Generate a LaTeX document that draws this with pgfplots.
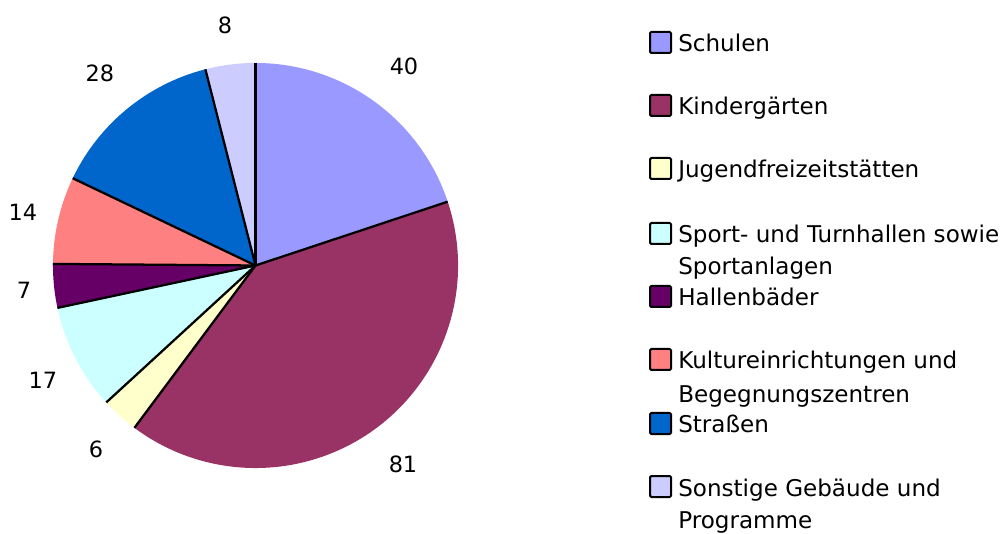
\documentclass[border=0pt]{standalone}
\usepackage{pgfplots}
\usepackage{pgfplotstable}
\pgfplotsset{compat=1.18}
\usepackage{fontspec}
\setmainfont{DejaVu Sans}

\definecolor{pie0}{HTML}{9999FF}
\definecolor{pie1}{HTML}{993366}
\definecolor{pie2}{HTML}{FFFFCC}
\definecolor{pie3}{HTML}{CCFFFF}
\definecolor{pie4}{HTML}{660066}
\definecolor{pie5}{HTML}{FF8080}
\definecolor{pie6}{HTML}{0066CC}
\definecolor{pie7}{HTML}{CCCCFF}

% value, label position (pixels, y downward)
\pgfplotstableread{
value lx ly
40 404 66
81 403 464
6 96 449
17 43 380
7 24 290
14 23 212
28 100 73
8 225 25
}\piedata

\newcommand\numfont{\fontsize{16.8pt}{20pt}\selectfont}
\newcommand\legfont{\fontsize{17.3pt}{20pt}\selectfont}
\def\cx{255.5}
\def\cy{267.5}
\def\rad{151.9pt}

\newcommand\pieslice[6]{%
  \fill[#1] (axis cs:\cx,\cy) -- ([shift={(#2:\rad)}]axis cs:\cx,\cy)
    arc[start angle=#2, end angle=#3, radius=\rad] -- cycle;}
\newcommand\pieline[6]{%
  \draw[black, line width=1.7pt] (axis cs:\cx,\cy) -- ([shift={(#2:\rad)}]axis cs:\cx,\cy);}
\newcommand\pielabel[6]{%
  \node[font=\numfont, inner sep=0pt] at (axis cs:#5,{533-#6}) {#4};}

\newcommand\legitem[3]{% color, baseline px, text
  \draw[line width=1.5pt, fill=#1, rounded corners=1pt]
    (axis cs:650,{533-#2-1}) rectangle (axis cs:671,{533-#2+20});
  \node[anchor=base west, inner sep=0pt, font=\legfont] at (axis cs:678,{533-#2}) {#3};}
\newcommand\legline[2]{%
  \node[anchor=base west, inner sep=0pt, font=\legfont] at (axis cs:678,{533-#1}) {#2};}

\begin{document}
\begin{tikzpicture}
\useasboundingbox (0,0) rectangle (753pt,399.75pt);
% compute angles from the data
\def\total{0}
\pgfplotsforeachungrouped \i in {0,...,7}{%
  \pgfplotstablegetelem{\i}{value}\of\piedata
  \pgfmathsetmacro\total{\total+\pgfplotsretval}}
\def\cum{0}
\pgfplotsforeachungrouped \i in {0,...,7}{%
  \pgfplotstablegetelem{\i}{value}\of\piedata \let\v\pgfplotsretval
  \pgfmathsetmacro\sa{90-\cum/\total*360}%
  \pgfmathsetmacro\cum{\cum+\v}%
  \pgfmathsetmacro\ea{90-\cum/\total*360}%
  \pgfplotstablegetelem{\i}{lx}\of\piedata \let\lx\pgfplotsretval
  \pgfplotstablegetelem{\i}{ly}\of\piedata \let\ly\pgfplotsretval
  \expandafter\xdef\csname pie@\i\endcsname{{\sa}{\ea}{\v}{\lx}{\ly}}%
}
\begin{axis}[at={(0,0)}, anchor=origin, scale only axis,
  width=753pt, height=399.75pt,
  xmin=0, xmax=1004, ymin=0, ymax=533,
  hide axis, clip=false]
\pgfplotsinvokeforeach{0,...,7}{%
  \edef\temp{\noexpand\pieslice{pie#1}\csname pie@#1\endcsname}\temp}
\pgfplotsinvokeforeach{0,...,7}{%
  \edef\temp{\noexpand\pieline{pie#1}\csname pie@#1\endcsname}\temp}
\pgfplotsinvokeforeach{0,...,7}{%
  \edef\temp{\noexpand\pielabel{pie#1}\csname pie@#1\endcsname}\temp}

\legitem{pie0}{52}{Schulen}
\legitem{pie1}{115}{Kindergärten}
\legitem{pie2}{178}{Jugendfreizeitstätten}
\legitem{pie3}{243}{Sport- und Turnhallen sowie}
\legline{275}{Sportanlagen}
\legitem{pie4}{306}{Hallenbäder}
\legitem{pie5}{369}{Kultureinrichtungen und}
\legline{402}{Begegnungszentren}
\legitem{pie6}{433}{Straßen}
\legitem{pie7}{496}{Sonstige Gebäude und}
\legline{528}{Programme}
\end{axis}
\end{tikzpicture}
\end{document}
